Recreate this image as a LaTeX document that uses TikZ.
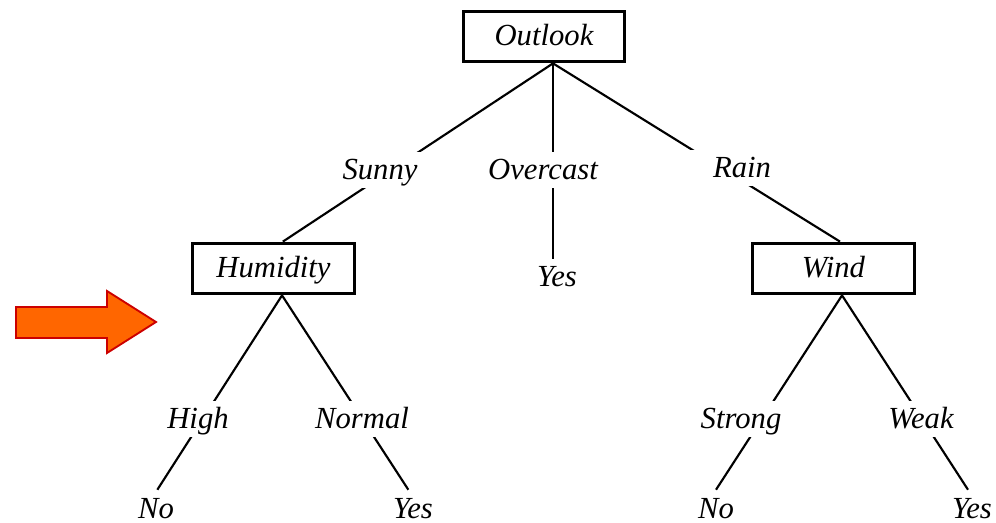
\documentclass[tikz,border=0pt]{standalone}
\usepackage{fontspec}
\setmainfont{Liberation Serif}
\definecolor{arrowfill}{HTML}{FF6600}
\definecolor{arrowline}{HTML}{CC0000}
\begin{document}
\begin{tikzpicture}[x=0.75pt,y=-0.75pt,
  every node/.style={font=\fontsize{23}{27}\selectfont\itshape},
  attrbox/.style={draw, line width=2.3pt, inner sep=0pt, minimum width=121pt, minimum height=38pt, text height=17pt, text depth=3pt},
  edgelabel/.style={fill=white, inner sep=0pt, text height=21pt, text depth=6pt, minimum width=84pt, anchor=base},
  leaf/.style={inner sep=0pt, text height=21pt, text depth=6pt, anchor=base},
  branch/.style={line width=1.6pt}]
\useasboundingbox (0,0) rectangle (996,523);

% attribute boxes
\node[attrbox] (outlook) at (544,36.5) {Outlook};
\node[attrbox] (humidity) at (273.5,268.5) {Humidity};
\node[attrbox] (wind) at (833.5,268.5) {Wind};

% anchor points on the boxes
\coordinate (oB) at ([xshift=6.75pt]outlook.south);
\coordinate (hT) at ([xshift=7pt]humidity.north);
\coordinate (hB) at ([xshift=6.4pt]humidity.south);
\coordinate (wT) at ([xshift=4.9pt]wind.north);
\coordinate (wB) at ([xshift=6.4pt]wind.south);

% leaves
\node[leaf] (yesO) at (557,287) {Yes};
\node[leaf] (noH) at (156,518) {No};
\node[leaf] (yesH) at (413,518) {Yes};
\node[leaf] (noW) at (716,518) {No};
\node[leaf] (yesW) at (972,518) {Yes};

% branches
\draw[branch] (oB) -- (hT);
\draw[branch] (oB) -- (oB |- yesO.north);
\draw[branch] (oB) -- (wT);
\draw[branch] (hB) -- ([xshift=1pt]noH.north);
\draw[branch] (hB) -- ([xshift=-3.5pt]yesH.north);
\draw[branch] (wB) -- (noW.north);
\draw[branch] (wB) -- ([xshift=-3pt]yesW.north);

% branch labels
\node[edgelabel] (sunny) at (380,180) {Sunny};
\node[edgelabel] (overcast) at (543,180) {Overcast};
\node[edgelabel] (rain) at (742,178) {Rain};
\node[edgelabel] (high) at (198,429) {High};
\node[edgelabel] (normal) at (362,429) {Normal};
\node[edgelabel] (strong) at (741,429) {Strong};
\node[edgelabel] (weak) at (921,429) {Weak};

% pointer arrow
\draw[fill=arrowfill, draw=arrowline, line width=1.4pt, line join=miter]
  (16,307) -- (107,307) -- (107,291) -- (156,322) -- (107,353) -- (107,338) -- (16,338) -- cycle;
\end{tikzpicture}
\end{document}
